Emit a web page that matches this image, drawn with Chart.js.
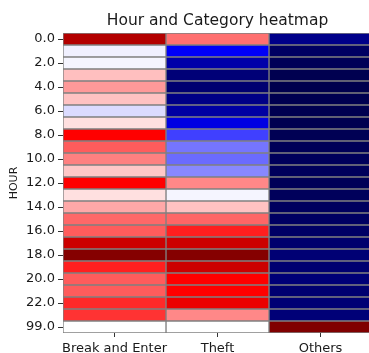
<!DOCTYPE html>
<html>
<head>
<meta charset="utf-8">
<script src="https://cdn.jsdelivr.net/npm/chart.js@4"></script>
<style>
  html, body { margin: 0; padding: 0; background: #fff; overflow: hidden; }
  #wrap { width: 380px; height: 353px; }
</style>
</head>
<body>
<div id="wrap"><canvas id="c"></canvas></div>
<script>
// Rows of the heatmap (hour of day, 99 = unknown hour)
const hours = ['0.0', '1.0', '2.0', '3.0', '4.0', '5.0', '6.0', '7.0', '8.0', '9.0',
               '10.0', '11.0', '12.0', '13.0', '14.0', '15.0', '16.0', '17.0', '18.0', '19.0',
               '20.0', '21.0', '22.0', '23.0', '99.0'];

// Columns of the heatmap
const categories = ['Break and Enter', 'Theft', 'Others'];

// Normalised intensity per hour (0 = low, 0.5 = neutral, 1 = high)
const breakAndEnter = [0.90, 0.485, 0.49, 0.5625, 0.60, 0.56, 0.465, 0.53, 0.75, 0.66,
                       0.625, 0.555, 0.75, 0.53, 0.585, 0.648, 0.66, 0.85, 0.99, 0.72,
                       0.66, 0.66, 0.71, 0.70, 0.50];
const theft = [0.64, 0.24, 0.13, 0.06, 0.05, 0.08, 0.12, 0.21, 0.3125, 0.365,
               0.355, 0.383, 0.617, 0.49, 0.56, 0.65, 0.72, 0.85, 0.99, 0.85,
               0.75, 0.75, 0.79, 0.617, 0.50];
const others = [0.085, 0.03, 0.015, 0.005, 0.0, 0.005, 0.005, 0.005, 0.01, 0.015,
                0.02, 0.02, 0.015, 0.02, 0.025, 0.03, 0.035, 0.045, 0.055, 0.05,
                0.06, 0.05, 0.055, 0.06, 1.0];

const titleText = 'Hour and Category heatmap';
const columns = [breakAndEnter, theft, others];

// Diverging blue-white-red colour map (seismic)
const seismicStops = [
  [0.00, 0.0, 0.0, 0.3],
  [0.25, 0.0, 0.0, 1.0],
  [0.50, 1.0, 1.0, 1.0],
  [0.75, 1.0, 0.0, 0.0],
  [1.00, 0.5, 0.0, 0.0]
];
function seismic(t) {
  t = Math.max(0, Math.min(1, t));
  for (let i = 1; i < seismicStops.length; i++) {
    const a = seismicStops[i - 1], b = seismicStops[i];
    if (t <= b[0]) {
      const f = (t - a[0]) / (b[0] - a[0]);
      const ch = k => Math.round(255 * (a[k] + (b[k] - a[k]) * f));
      return `rgb(${ch(1)},${ch(2)},${ch(3)})`;
    }
  }
  return 'rgb(128,0,0)';
}

const FONT = '"DejaVu Sans", sans-serif';
const TEXT = '#1a1a1a';

const titlePlugin = {
  id: 'heatTitle',
  afterDraw(chart) {
    const { ctx, chartArea: a } = chart;
    ctx.save();
    ctx.font = `15.5px ${FONT}`;
    ctx.fillStyle = TEXT;
    ctx.textAlign = 'center';
    ctx.textBaseline = 'middle';
    ctx.fillText(titleText, (a.left + a.right) / 2, 21);
    ctx.restore();
  }
};

new Chart(document.getElementById('c'), {
  type: 'bar',
  data: {
    labels: hours,
    datasets: categories.map((name, c) => ({
      label: name,
      data: columns[c].map(() => [c, c + 1]),
      backgroundColor: columns[c].map(seismic),
      borderColor: '#808080',
      borderWidth: 1,
      borderSkipped: false,
      grouped: false,
      barPercentage: 1,
      categoryPercentage: 1
    }))
  },
  options: {
    indexAxis: 'y',
    responsive: true,
    maintainAspectRatio: false,
    animation: false,
    layout: { padding: { top: 33, right: 8, bottom: 0, left: 0 } },
    plugins: {
      legend: { display: false },
      title: { display: false },
      tooltip: { enabled: false }
    },
    scales: {
      x: {
        type: 'linear',
        min: 0,
        max: 3,
        afterBuildTicks: s => { s.ticks = [0.5, 1.5, 2.5].map(v => ({ value: v })); },
        afterFit: s => { s.height = 20; },
        border: { display: false },
        grid: { drawOnChartArea: false, drawTicks: true, tickLength: 4, color: '#333' },
        ticks: {
          autoSkip: false,
          maxRotation: 0,
          padding: 4,
          color: TEXT,
          font: { family: FONT, size: 13 },
          callback: v => categories[Math.floor(v)]
        }
      },
      y: {
        type: 'category',
        afterFit: s => { s.width = 63; },
        border: { display: false },
        grid: { offset: false, drawOnChartArea: false, drawTicks: true, tickLength: 5, color: '#333' },
        ticks: {
          autoSkip: false,
          padding: 3,
          color: TEXT,
          font: { family: FONT, size: 13 },
          callback: (v, i) => (i % 2 === 0 ? hours[i] : null)
        },
        title: {
          display: true,
          text: 'HOUR',
          color: TEXT,
          font: { family: FONT, size: 11 },
          padding: { top: 8, bottom: 0 }
        }
      }
    }
  },
  plugins: [titlePlugin]
});
</script>
</body>
</html>
